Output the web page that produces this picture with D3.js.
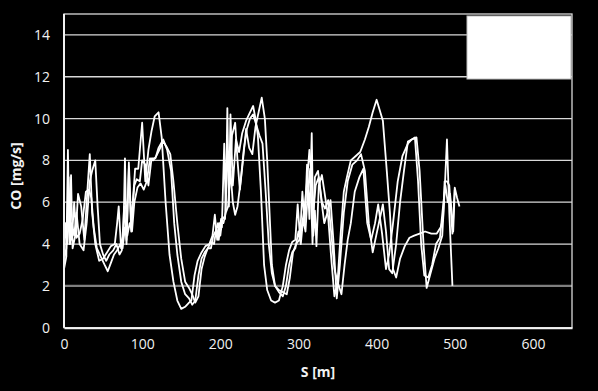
<!DOCTYPE html>
<html><head><meta charset="utf-8">
<script src="https://cdn.jsdelivr.net/npm/d3@7"></script>
<style>body{margin:0;background:#000;}svg{display:block;}</style>
</head><body>
<svg id="chart" width="598" height="391"></svg>
<script>
const xTicks = [0,100,200,300,400,500,600];
const yTicks = [0,2,4,6,8,10,12,14];
const xLabel = "S [m]";
const yLabel = "CO [mg/s]";

const sA = [0,3,5,7,9,11,15,18,22,26,30,33,36,40,45,50,55,60,65,68,70,73,76,78,80,83,86,88,91,95,100,104,108,112,116,121,125,130,135,140,145,150,155,160,163,167,171,176,181,186,190,193,196,199,202,205,207,209,211,213,216,220,224,228,233,238,242,245,248,252,256,260,265,270,275,280,284,288,292,296,299,302,305,308,311,314,317,319,321,323,326,330,334,338,342,346,350,354,358,362,367,373,379,385,390,395,400,404,408,413,417,421,425,430,436,442,448,455,462,470,477,482,485,487,490,493,497,500,503,506];
const coA = [2.8,3.4,8.5,4.0,7.3,3.8,4.5,6.4,5.8,4.2,6.6,8.3,5.5,4.0,3.2,3.3,3.6,3.9,4.0,5.0,5.8,3.8,4.5,8.1,4.2,7.6,4.6,6.0,7.6,7.6,9.8,7.0,8.5,9.4,10.1,10.3,9.1,6.0,3.5,2.2,1.3,0.9,1.0,1.2,1.3,2.5,3.2,3.6,3.9,4.0,4.4,5.4,4.2,5.0,4.8,8.8,5.6,10.5,5.8,10.2,6.8,9.0,8.4,9.3,9.9,10.3,10.6,10.0,9.2,6.5,3.0,1.8,1.3,1.2,1.3,2.0,3.0,3.7,4.1,4.2,5.9,4.3,6.5,5.0,7.8,5.2,9.3,4.4,5.6,3.9,6.8,7.3,6.3,5.3,3.3,1.5,2.2,4.5,6.5,7.2,8.0,8.2,8.4,9.0,9.6,10.3,10.9,10.4,9.9,7.5,5.5,2.8,2.4,3.3,3.9,4.3,4.4,4.5,4.6,4.5,4.5,4.8,5.2,7.0,7.0,6.8,4.5,6.7,6.2,5.8];

const sB = [0,3,6,8,10,13,16,20,25,29,33,36,40,43,46,50,54,58,63,67,71,74,77,80,83,86,90,93,97,100,104,108,112,117,121,127,132,137,141,145,150,155,160,164,168,172,176,180,184,188,191,194,197,200,203,206,209,212,215,219,222,225,229,233,237,241,245,249,253,257,260,263,266,270,275,280,284,288,292,296,300,303,306,309,312,315,318,321,325,329,333,337,341,345,349,353,358,363,369,375,380,385,390,395,400,404,408,412,416,420,425,430,435,440,445,451,455,460,464,469,474,479,484,487,490,493,497];
const coB = [3.2,3.8,7.2,4.0,5.0,4.4,5.5,4.0,3.7,5.0,7.0,7.5,8.0,5.8,4.0,3.5,3.2,3.5,3.7,4.0,3.5,3.7,5.8,4.0,7.9,5.0,6.8,7.1,7.0,8.0,7.8,6.8,8.1,8.1,8.6,9.0,8.5,7.5,5.0,3.5,2.2,1.6,1.4,1.1,1.3,2.5,3.3,3.6,3.8,3.8,4.4,4.6,5.0,4.4,5.3,5.2,8.2,7.0,9.2,9.8,8.0,6.6,8.0,9.5,8.6,8.3,9.6,10.3,11.0,10.0,8.0,5.5,3.0,2.0,1.7,1.5,2.0,3.0,3.6,3.8,4.6,4.0,5.2,4.6,6.5,7.6,4.0,7.2,7.5,6.2,5.0,5.5,6.1,4.0,1.4,3.0,5.5,7.0,7.8,8.0,8.3,7.5,5.0,3.6,4.5,5.2,5.9,4.6,2.8,2.6,4.0,6.0,7.5,8.9,9.0,9.1,7.5,4.0,1.9,2.6,3.3,3.8,4.4,6.5,9.0,5.5,2.0];

const sC = [0,2,4,7,10,13,16,20,24,28,32,35,38,42,47,52,56,60,64,68,72,75,78,81,84,87,90,94,98,102,106,110,114,118,122,127,132,136,140,145,150,155,160,164,168,172,176,180,184,188,192,195,198,201,204,207,210,213,216,219,222,226,230,234,238,242,246,250,254,258,262,266,270,275,280,285,289,293,297,301,304,308,311,314,316,319,322,326,330,334,338,342,346,350,355,359,363,367,372,378,383,388,393,398,402,407,412,416,421,427,433,440,445,449,453,457,461,466,471,476,481,485,488,491,494,498,500];
const coC = [3.5,5.0,4.0,5.5,4.2,6.0,4.3,4.5,5.2,6.5,6.6,6.2,4.8,3.8,3.4,3.0,2.7,3.1,3.5,3.7,4.0,3.8,4.8,4.4,5.0,4.6,6.0,6.7,6.9,6.6,7.0,8.1,8.0,8.2,8.5,8.9,8.6,8.3,7.0,5.0,3.3,2.2,1.9,1.6,1.2,1.5,2.8,3.4,3.8,4.1,4.0,4.8,4.2,5.2,5.0,5.5,5.8,7.5,6.0,5.4,5.8,7.0,8.5,9.5,10.0,10.2,9.7,9.2,8.8,6.5,4.0,2.6,2.0,1.8,1.7,1.6,2.4,3.6,4.0,4.2,4.8,5.8,7.0,8.5,7.6,5.5,6.8,7.2,6.0,5.7,6.1,4.5,2.8,2.2,1.6,3.0,4.2,5.0,6.5,7.2,7.6,5.0,4.2,5.0,5.9,4.5,2.8,3.5,5.0,7.0,8.2,8.8,9.0,9.1,7.0,4.0,2.5,2.4,3.0,4.0,4.3,5.8,6.8,6.0,6.4,4.6,6.6];

const series = [
  sA.map((s,i)=>({s, v: coA[i]})),
  sB.map((s,i)=>({s, v: coB[i]})),
  sC.map((s,i)=>({s, v: coC[i]}))
];

const svg = d3.select("#chart");
const pL = 64, pR = 572, pT = 14, pB = 327.7;
const x = d3.scaleLinear().domain([0,650]).range([pL,pR]);
const y = d3.scaleLinear().domain([0,15]).range([pB,pT]);

// gridlines
svg.append("g").selectAll("line").data(yTicks.filter(d=>d>0)).join("line")
  .attr("x1",pL).attr("x2",pR)
  .attr("y1",d=>y(d)).attr("y2",d=>y(d))
  .attr("stroke",d=>d===2?"#7f7f7f":"#d9d9d9")
  .attr("stroke-width",d=>d===2?2.2:1.3);

// frame
svg.append("rect").attr("x",pL).attr("y",pT).attr("width",pR-pL).attr("height",pB-pT)
  .attr("fill","none").attr("stroke","#d9d9d9").attr("stroke-width",1.3);

// lines
const line = d3.line().defined(d=>d.v!=null).x(d=>x(d.s)).y(d=>y(d.v));
svg.append("g").selectAll("path").data(series).join("path")
  .attr("d",line).attr("fill","none").attr("stroke","#ffffff").attr("stroke-width",1.8)
  .attr("stroke-linejoin","round");

// axes
const xAxis = d3.axisBottom(x).tickValues(xTicks).tickSize(0).tickPadding(11);
const gx = svg.append("g").attr("transform",`translate(0,${pB})`).call(xAxis);
gx.select(".domain").attr("stroke","#f2f2f2").attr("stroke-width",2);
gx.selectAll("text").attr("fill","#f2f2f2").attr("font-size","14px").attr("font-family","'Open Sans', sans-serif");

const yAxis = d3.axisLeft(y).tickValues(yTicks).tickSize(0).tickPadding(14);
const gy = svg.append("g").attr("transform",`translate(${pL},0)`).call(yAxis);
gy.select(".domain").attr("stroke","#f2f2f2").attr("stroke-width",2).attr("d",`M0,${pB}V${pT}`);
gy.selectAll("text").attr("fill","#f2f2f2").attr("font-size","14px").attr("font-family","'Open Sans', sans-serif");

// legend box
svg.append("rect").attr("x",467).attr("y",16).attr("width",104).attr("height",63)
  .attr("fill","#ffffff").attr("stroke","#bfbfbf").attr("stroke-width",1);

// axis titles
svg.append("text").attr("x",318).attr("y",377).attr("text-anchor","middle")
  .attr("fill","#f2f2f2").attr("font-weight","bold").attr("font-size","14px")
  .attr("font-family","'Open Sans', sans-serif").text(xLabel);
svg.append("text").attr("transform","translate(21,176) rotate(-90)").attr("text-anchor","middle")
  .attr("fill","#f2f2f2").attr("font-weight","bold").attr("font-size","14px")
  .attr("font-family","'Open Sans', sans-serif").text(yLabel);
</script>
</body></html>
